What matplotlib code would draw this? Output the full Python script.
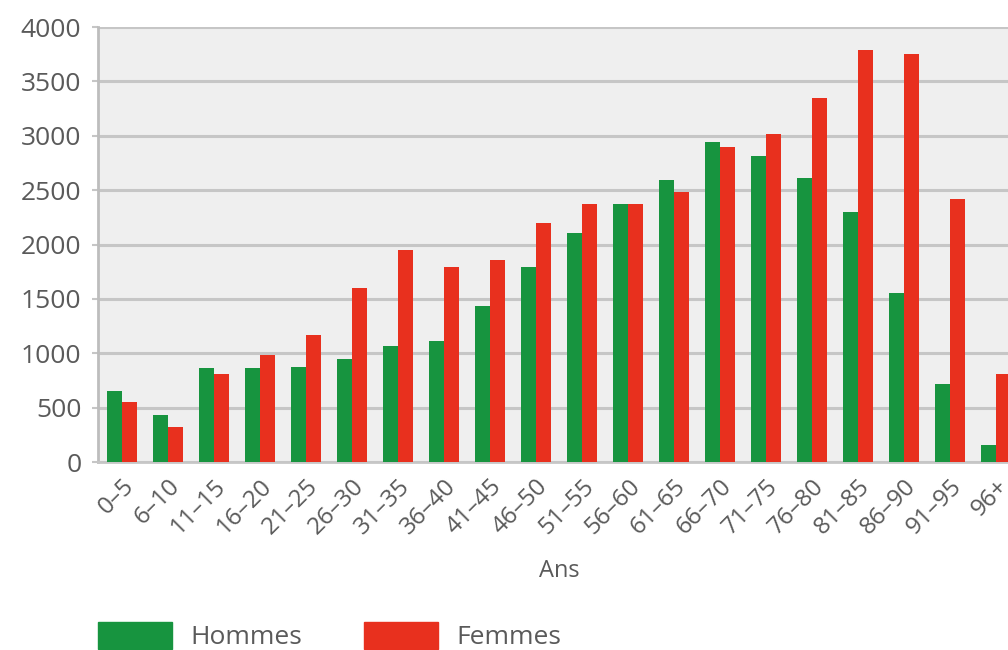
import matplotlib.pyplot as plt
import numpy as np
from matplotlib.patches import Patch

# tranches d'âge et effectifs
ages = ["0–5", "6–10", "11–15", "16–20", "21–25", "26–30", "31–35", "36–40",
        "41–45", "46–50", "51–55", "56–60", "61–65", "66–70", "71–75", "76–80",
        "81–85", "86–90", "91–95", "96+"]
hommes = [655, 430, 860, 865, 870, 945, 1065, 1110, 1430, 1790, 2110, 2370,
          2590, 2945, 2810, 2610, 2300, 1550, 715, 160]
femmes = [550, 320, 810, 980, 1165, 1600, 1945, 1790, 1860, 2200, 2375, 2375,
          2485, 2900, 3020, 3350, 3790, 3750, 2415, 805]

VERT = "#17943f"
ROUGE = "#e8301e"
GRIS = "#5a5a5a"


def main():
    plt.rcParams['font.family'] = ['Open Sans', 'DejaVu Sans']
    fig = plt.figure(figsize=(10.08, 6.5), dpi=100)
    # l'axe dépasse à droite de l'image, comme dans l'original
    ax = fig.add_axes([98 / 1008, 1 - 462 / 650, (1020 - 98) / 1008, (462 - 27) / 650])

    x = np.arange(len(ages))
    w = 0.335
    ax.bar(x - w / 2, hommes, w, color=VERT, zorder=3)
    ax.bar(x + w / 2, femmes, w, color=ROUGE, zorder=3)

    ax.set_facecolor("#efefef")
    ax.set_xlim(-0.52, len(ages) - 0.48)
    ax.set_ylim(0, 4000)
    ax.set_yticks(range(0, 4001, 500))
    ax.yaxis.grid(True, color="#c6c6c6", linewidth=2.2, zorder=0)
    for s in ["top", "right"]:
        ax.spines[s].set_visible(False)
    ax.spines["left"].set_color("#bdbdbd")
    ax.spines["left"].set_linewidth(2)
    ax.spines["bottom"].set_color("#c6c6c6")
    ax.spines["bottom"].set_linewidth(2)

    ax.tick_params(axis="y", length=4, width=1.5, color="#c6c6c6",
                   labelsize=19, labelcolor=GRIS, pad=8)
    ax.tick_params(axis="x", length=0, labelsize=17.5, labelcolor=GRIS, pad=9)
    ax.set_xticks(x)
    ax.set_xticklabels(ages, rotation=45, ha="right", rotation_mode="anchor")
    ax.set_xlabel("Ans", fontsize=17, color=GRIS, labelpad=14)

    handles = [Patch(color=VERT, label="Hommes"), Patch(color=ROUGE, label="Femmes")]
    fig.legend(handles=handles, loc="lower left", bbox_to_anchor=(98 / 1008, 0.0),
               ncol=2, frameon=False, fontsize=19, labelcolor=GRIS,
               borderpad=0, borderaxespad=0,
               handlelength=2.8, handleheight=1.2, handletextpad=0.7,
               columnspacing=2.35)

    fig.savefig("out.png", dpi=100)


if __name__ == '__main__':
    main()
